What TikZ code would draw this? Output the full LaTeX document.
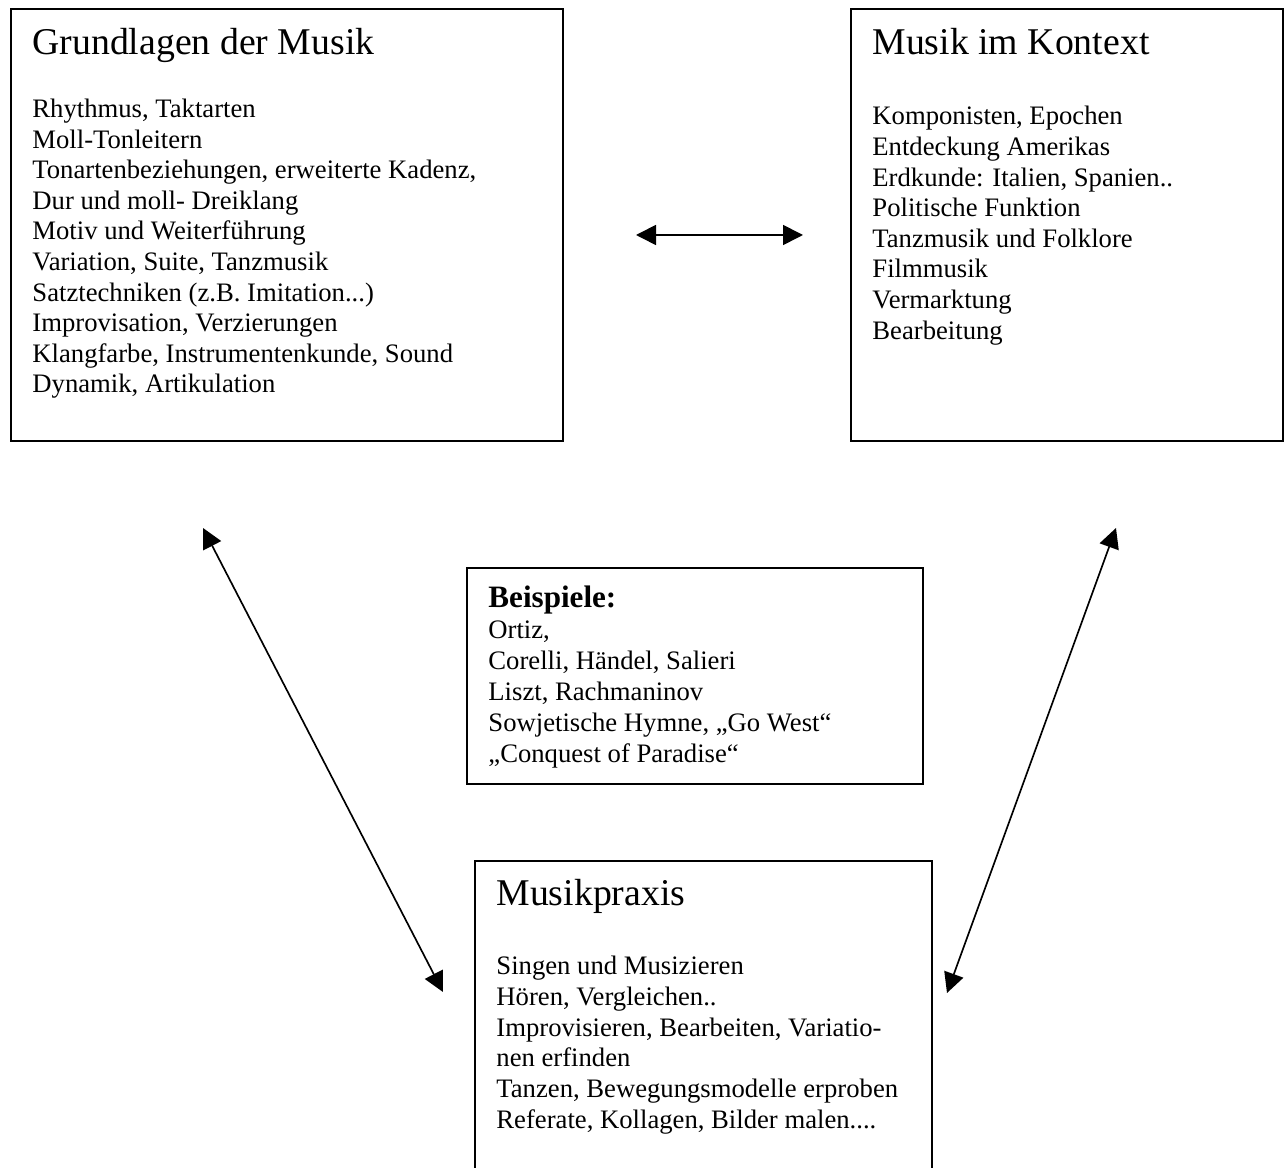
\documentclass[tikz,border=0pt]{standalone}
\usepackage{fontspec}
\setmainfont{Liberation Serif}
\usetikzlibrary{arrows.meta,fit}
\tikzset{
  box/.style={draw=black, line width=0.8pt, inner sep=0pt, fill=none},
  body/.style={anchor=base west, inner sep=0pt, font=\fontsize{12}{13.8}\selectfont},
  ttl/.style={anchor=base west, inner sep=0pt, font=\fontsize{17}{20}\selectfont},
  conn/.style={line width=0.75pt, {Triangle[length=9pt,width=9pt]}-{Triangle[length=9pt,width=9pt]}}
}
\begin{document}
\begin{tikzpicture}[x=0.45pt,y=-0.45pt]
\useasboundingbox (0,0) rectangle (1285,1168);
\fill[white] (0,0) rectangle (1285,1168);
\clip (0,0) rectangle (1285,1168);

% boxes
\node[box, fit={(11,9) (563,441)}] (grund) {};
\node[box, fit={(851,9) (1283,441)}] (kontext) {};
\node[box, fit={(467,568) (923,784)}] (beisp) {};
\node[box, fit={(475,861) (932,1250)}] (praxis) {};

% Grundlagen der Musik
\node[ttl] (grundT) at (32,55) {Grundlagen der Musik};
\node[body] (grundL0) at (32,117.5) {Rhythmus, Taktarten};
\node[body] (grundL1) at (32,148.1) {Moll-Tonleitern};
\node[body] (grundL2) at (32,178.7) {Tonartenbeziehungen, erweiterte Kadenz,};
\node[body] (grundL3) at (32,209.3) {Dur und moll- Dreiklang};
\node[body] (grundL4) at (32,239.9) {Motiv und Weiterführung};
\node[body] (grundL5) at (32,270.5) {Variation, Suite, Tanzmusik};
\node[body] (grundL6) at (32,301.1) {Satztechniken (z.B. Imitation...)};
\node[body] (grundL7) at (32,331.7) {Improvisation, Verzierungen};
\node[body] (grundL8) at (32,362.3) {Klangfarbe, Instrumentenkunde, Sound};
\node[body] (grundL9) at (32,392.9) {Dynamik, Artikulation};

% Musik im Kontext
\node[ttl] (kontextT) at (872,55) {Musik im Kontext};
\node[body] (kontextL0) at (872,125.0) {Komponisten, Epochen};
\node[body] (kontextL1) at (872,155.6) {Entdeckung Amerikas};
\node[body] (kontextL2) at (872,186.2) {Erdkunde: Italien, Spanien..};
\node[body] (kontextL3) at (872,216.8) {Politische Funktion};
\node[body] (kontextL4) at (872,247.4) {Tanzmusik und Folklore};
\node[body] (kontextL5) at (872,278.0) {Filmmusik};
\node[body] (kontextL6) at (872,308.6) {Vermarktung};
\node[body] (kontextL7) at (872,339.2) {Bearbeitung};

% Beispiele
\node[ttl, font=\fontsize{14}{16}\selectfont\bfseries] (beispT) at (488,608) {Beispiele:};
\node[body] (beispL0) at (488,639.0) {Ortiz,};
\node[body] (beispL1) at (488,669.9) {Corelli, Händel, Salieri};
\node[body] (beispL2) at (488,700.8) {Liszt, Rachmaninov};
\node[body] (beispL3) at (488,731.7) {Sowjetische Hymne, „Go West“};
\node[body] (beispL4) at (488,762.6) {„Conquest of Paradise“};

% Musikpraxis
\node[ttl] (praxisT) at (496,906) {Musikpraxis};
\node[body] (praxisL0) at (496,975.0) {Singen und Musizieren};
\node[body] (praxisL1) at (496,1005.6) {Hören, Vergleichen..};
\node[body] (praxisL2) at (496,1036.2) {Improvisieren, Bearbeiten, Variatio-};
\node[body] (praxisL3) at (496,1066.8) {nen erfinden};
\node[body] (praxisL4) at (496,1097.4) {Tanzen, Bewegungsmodelle erproben};
\node[body] (praxisL5) at (496,1128.0) {Referate, Kollagen, Bilder malen....};

% arrows
\coordinate (h1) at (636,235);
\coordinate (h2) at (803,235);
\coordinate (l1) at (203,528);
\coordinate (l2) at (443,992);
\coordinate (r1) at (1116,528);
\coordinate (r2) at (947,993);
\draw[conn] (h1) -- (h2);
\draw[conn] (l1) -- (l2);
\draw[conn] (r1) -- (r2);
\end{tikzpicture}
\end{document}
